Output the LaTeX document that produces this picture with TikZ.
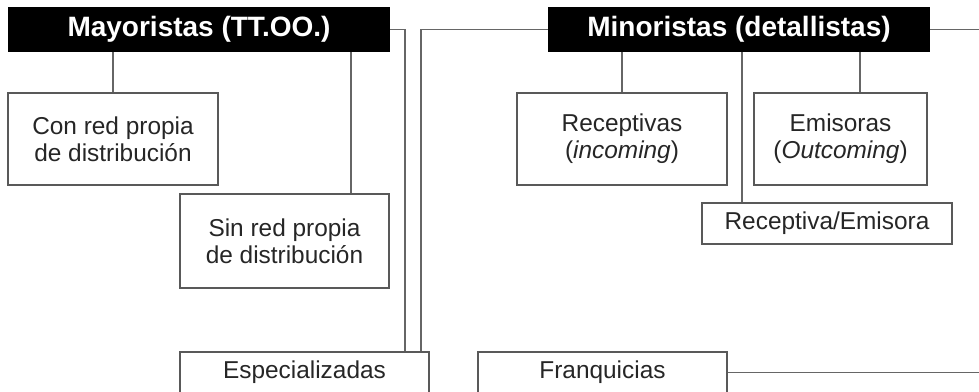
\documentclass[tikz,border=0pt]{standalone}
\usepackage{fontspec}
\setmainfont{Liberation Sans}
\begin{document}
\begin{tikzpicture}[x=0.5pt, y=-0.5pt,
    box/.style={draw=black!65, line width=0.6pt, fill=white, align=center, inner sep=0pt,
        text=black!85, font=\fontsize{12.2}{13.6}\selectfont},
    head/.style={fill=black, text=white, inner sep=0pt, font=\fontsize{14}{16}\selectfont\bfseries},
    link/.style={draw=black!60, line width=0.6pt}]
    \useasboundingbox (0,0) rectangle (979,391);
    \clip (0,0) rectangle (979,391);

    % Heads
    \node[head, minimum width=191pt, minimum height=22.5pt] (may) at (199, 29.5) {Mayoristas (TT.OO.)};
    \node[head, minimum width=191pt, minimum height=22.5pt] (mino) at (739, 29.5) {Minoristas (detallistas)};

    % Boxes below the heads
    \node[box, minimum width=105pt, minimum height=46pt] (conred) at (113, 139) {Con red propia\\de distribución};
    \node[box, minimum width=104.5pt, minimum height=47pt] (sinred) at (284.5, 241) {Sin red propia\\de distribución};
    \node[box, minimum width=105pt, minimum height=46pt] (recep) at (622, 139) {Receptivas\\(\textit{incoming})};
    \node[box, minimum width=86.5pt, minimum height=46pt] (emis) at (840.5, 139) {Emisoras\\(\textit{Outcoming})};
    \node[box, minimum width=125pt, minimum height=20.5pt] (recem) at (827, 223.5) {Receptiva/Emisora};
    \node[box, minimum width=124.5pt, minimum height=20.5pt] (espec) at (304.5, 372.5) {Especializadas};
    \node[box, minimum width=124.5pt, minimum height=20.5pt] (franq) at (602.5, 372.5) {Franquicias};

    % Where the vertical lines run
    \coordinate (xsin) at (351, 0);
    \coordinate (xa) at (405, 0);
    \coordinate (xb) at (421, 0);
    \coordinate (xrecem) at (742, 0);
    \coordinate (xemis) at (860, 0);
    \coordinate (xout) at (1000, 0);

    % Connect the heads with their boxes
    \draw[link] (may.south -| conred.north) -- (conred.north);
    \draw[link] (may.south -| xsin) -- (sinred.north -| xsin);
    \draw[link] (mino.south -| recep.north) -- (recep.north);
    \draw[link] (mino.south -| xrecem) -- (recem.north -| xrecem);
    \draw[link] (mino.south -| xemis) -- (emis.north -| xemis);

    % Long lines between the two sides
    \draw[link] (may.east) -| (espec.north -| xa);
    \draw[link] (espec.north -| xb) |- (mino.west);
    \draw[link] (mino.east) -| (xout) |- (franq.east);
\end{tikzpicture}
\end{document}
